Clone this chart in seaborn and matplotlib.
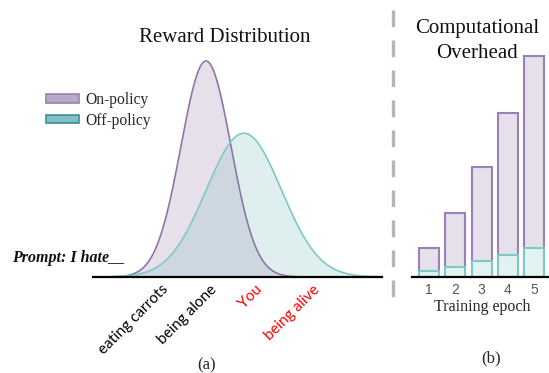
import numpy as np
import pandas as pd
import matplotlib
matplotlib.use("Agg")
import matplotlib.pyplot as plt
from matplotlib.patches import Patch
from matplotlib.lines import Line2D
import seaborn as sns

# ---- data ----
policies = ["On-policy", "Off-policy"]
reward_means = [3.91, 5.22]          # centre of each reward distribution
reward_stds = [0.865, 1.30]          # spread of each reward distribution
completions = ["eating carrots", "being alone", "You", "being alive"]
completion_rewards = [2.35, 4.02, 5.6, 7.6]
completion_colors = ["black", "black", "#ff0000", "#ff0000"]

epochs = ["1", "2", "3", "4", "5"]
on_policy_cost = [1.0, 2.21, 3.79, 5.66, 7.62]
off_policy_cost = [0.21, 0.34, 0.55, 0.76, 1.0]

# ---- style ----
sns.set_theme(style="white")
plt.rcParams["font.family"] = ["Liberation Serif", "DejaVu Serif"]

line_cols = ["#8c78a8", "#80c8c8"]
fill_cols = ["#a383ab", "#83c3c3"]
legend_face = ["#b9a9c9", "#80c0c4"]
legend_edge = ["#9a80b0", "#3f9090"]

W, H = 549, 373
fig = plt.figure(figsize=(W / 100, H / 100), dpi=100)

# ---- (a) reward distribution ----
ax1 = fig.add_axes([93 / W, 1 - 277 / H, (382 - 93) / W, (277 - 50) / H])
x = np.linspace(0, 10, 600)
for mu, sd, lc, fc in zip(reward_means, reward_stds, line_cols, fill_cols):
    dens = np.exp(-0.5 * ((x - mu) / sd) ** 2) / (sd * np.sqrt(2 * np.pi))
    ax1.fill_between(x, 0, dens, color=fc, alpha=0.25, linewidth=0)
    sns.lineplot(x=x, y=dens, ax=ax1, color=lc, linewidth=1.2)
peak = 1 / (reward_stds[0] * np.sqrt(2 * np.pi))
ax1.set_xlim(0, 10)
ax1.set_ylim(0, peak * 227 / 216)
for s in ["top", "right", "left"]:
    ax1.spines[s].set_visible(False)
ax1.spines["bottom"].set_color("black")
ax1.spines["bottom"].set_linewidth(1.6)
ax1.set_yticks([])
ax1.set_xticks(completion_rewards)
ax1.set_xticklabels(completions, rotation=45, ha="right", rotation_mode="anchor",
                    family=["Lato", "DejaVu Sans"], fontsize=11)
for lab, c in zip(ax1.get_xticklabels(), completion_colors):
    lab.set_color(c)
ax1.tick_params(axis="x", length=0, pad=4)
ax1.set_xlabel("")
ax1.set_ylabel("")

fig.text(225 / W, 1 - 38 / H, "Reward Distribution", ha="center", va="center",
         fontsize=15, color="#111111")
fig.text(12 / W, 1 - 258 / H, "Prompt: I hate__", ha="left", va="center",
         fontsize=11.5, fontweight="bold", fontstyle="italic", color="#111111")
fig.text(207 / W, 1 - 365 / H, "(a)", ha="center", va="center", fontsize=12)

handles = [Patch(facecolor=f, edgecolor=e, linewidth=1.2) for f, e in zip(legend_face, legend_edge)]
fig.legend(handles, policies, loc="upper left", bbox_to_anchor=(46 / W, 1 - 92 / H),
           frameon=False, fontsize=11.2, handlelength=2.1, handleheight=0.45,
           labelspacing=0.3, handletextpad=0.4, borderpad=0, borderaxespad=0)

# ---- divider ----
fig.add_artist(Line2D([393 / W, 393 / W], [1 - 10 / H, 1 - 304 / H], color="#b5b5b5",
                      linewidth=2.4, linestyle=(0, (5, 4)), transform=fig.transFigure))

# ---- (b) computational overhead ----
ax2 = fig.add_axes([412 / W, 1 - 277 / H, (549 - 412) / W, (277 - 40) / H])
cost = pd.DataFrame({"epoch": epochs, "on": on_policy_cost, "off": off_policy_cost})
sns.barplot(data=cost, x="epoch", y="on", ax=ax2, color="#e6e0ea", width=0.76,
            edgecolor="#9a80b8", linewidth=1.5, saturation=1)
sns.barplot(data=cost, x="epoch", y="off", ax=ax2, color="#e2f2f2", width=0.76,
            edgecolor="#80c8c8", linewidth=1.5, saturation=1)
ax2.set_xlim(-0.65, 4.57)
ax2.set_ylim(0, 237 / 29)
for s in ["top", "right", "left"]:
    ax2.spines[s].set_visible(False)
ax2.spines["bottom"].set_color("black")
ax2.spines["bottom"].set_linewidth(1.6)
ax2.set_yticks([])
ax2.tick_params(axis="x", length=0, pad=4, labelsize=10, labelcolor="#555555")
for lab in ax2.get_xticklabels():
    lab.set_family(["Liberation Sans", "DejaVu Sans"])
ax2.set_xlabel("")
ax2.set_ylabel("")

fig.text(477 / W, 1 - 41 / H, "Computational\nOverhead", ha="center", va="center",
         fontsize=15, linespacing=1.4, color="#111111")
fig.text(482 / W, 1 - 307 / H, "Training epoch", ha="center", va="center", fontsize=11.5)
fig.text(491 / W, 1 - 358 / H, "(b)", ha="center", va="center", fontsize=12)

fig.savefig("out.png", dpi=100, facecolor="white")
